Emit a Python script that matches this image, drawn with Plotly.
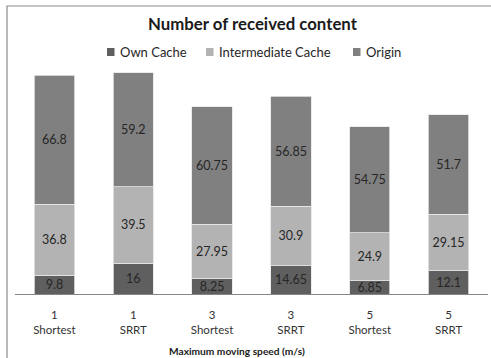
import plotly.graph_objects as go

# Categories: maximum moving speed (m/s) and routing scheme
speeds = ["1", "1", "3", "3", "5", "5"]
schemes = ["Shortest", "SRRT", "Shortest", "SRRT", "Shortest", "SRRT"]

# Number of received content by source
own_cache = [9.8, 16, 8.25, 14.65, 6.85, 12.1]
intermediate_cache = [36.8, 39.5, 27.95, 30.9, 24.9, 29.15]
origin = [66.8, 59.2, 60.75, 56.85, 54.75, 51.7]

categories = [f"{s}<br>{r}" for s, r in zip(speeds, schemes)]

series = [
    ("Own Cache", own_cache, "#5f5f5f"),
    ("Intermediate Cache", intermediate_cache, "#b3b3b3"),
    ("Origin", origin, "#808080"),
]

FONT = "Lato"
W, H = 491, 358
ML, MR, MT, MB = 15, 3, 70, 64
PW, PH = W - ML - MR, H - MT - MB


def px_x(x):
    return (x - ML) / PW


def px_y(y):
    return 1 - (y - MT) / PH


fig = go.Figure()
for name, values, color in series:
    fig.add_trace(go.Bar(
        name=name,
        x=categories,
        y=values,
        showlegend=False,
        marker=dict(color=color, line=dict(color="#e6e6e6", width=0.8)),
        text=[f"{v:g}" for v in values],
        textposition="inside",
        insidetextanchor="middle",
        textangle=0,
        textfont=dict(family=FONT, size=12.5, color="#262626"),
        constraintext="none",
        cliponaxis=False,
    ))

# legend: colour swatch + label for each series
legend_items = [(107, 118), (206, 217), (353, 364)]
shapes = [
    # outer chart frame
    dict(type="rect", xref="paper", yref="paper",
         x0=px_x(7), x1=px_x(W + 20), y0=px_y(H + 20), y1=px_y(6),
         line=dict(color="#8c8c8c", width=1.2), fillcolor="rgba(0,0,0,0)",
         layer="below"),
]
annotations = []
for (sx, tx), (name, _, color) in zip(legend_items, series):
    shapes.append(dict(type="rect", xref="paper", yref="paper",
                       x0=px_x(sx), x1=px_x(sx + 7.5),
                       y0=px_y(56), y1=px_y(48),
                       line=dict(width=0), fillcolor=color))
    annotations.append(dict(text=name, xref="paper", yref="paper",
                            x=px_x(tx), y=px_y(52), xanchor="left",
                            yanchor="middle", showarrow=False,
                            font=dict(family=FONT, size=13, color="#262626")))

# x-axis title
annotations.append(dict(text="<b>Maximum moving speed (m/s)</b>",
                        xref="paper", yref="paper",
                        x=px_x(236.5), y=px_y(350.5), xanchor="center",
                        yanchor="middle", showarrow=False,
                        font=dict(family=FONT, size=10.2, color="#1a1a1a")))

fig.update_layout(
    width=W,
    height=H,
    barmode="stack",
    bargap=0.49,
    paper_bgcolor="white",
    plot_bgcolor="white",
    margin=dict(l=ML, r=MR, t=MT, b=MB),
    font=dict(family=FONT, size=11, color="#262626"),
    title=dict(
        text="<b>Number of received content</b>",
        x=px_x(252.5) * PW / W + ML / W, xanchor="center",
        y=1 - 24 / H, yanchor="middle",
        font=dict(family=FONT, size=16.8, color="#1a1a1a"),
    ),
    showlegend=False,
    uniformtext=dict(minsize=12, mode="show"),
    xaxis=dict(
        showline=True, linecolor="#868686", linewidth=1,
        ticks="", tickfont=dict(family=FONT, size=11.5, color="#333333"),
        ticklabelstandoff=10,
    ),
    yaxis=dict(
        range=[0, 116], visible=False, showgrid=False, zeroline=False,
    ),
    shapes=shapes,
    annotations=annotations,
)

fig.write_html("out.html")
